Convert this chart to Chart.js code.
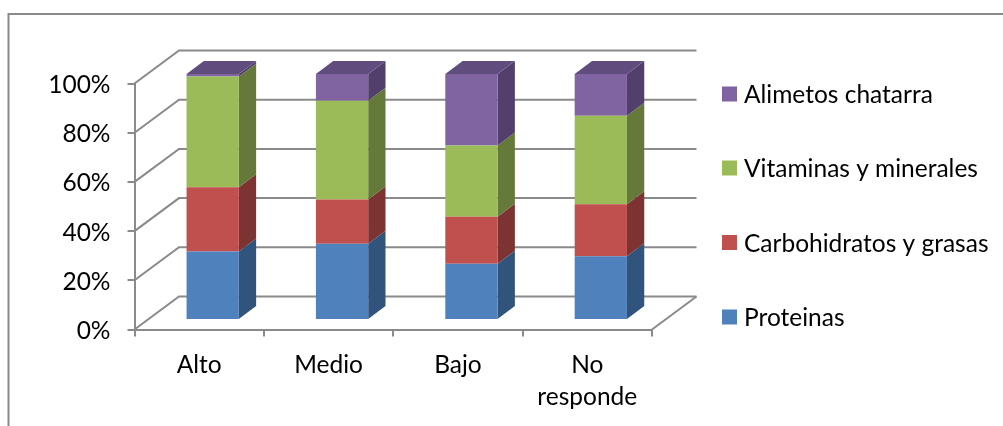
<!DOCTYPE html>
<html>
<head>
<meta charset="utf-8">
<style>html,body{margin:0;padding:0;background:#fff}canvas{display:block}</style>
<script src="https://cdn.jsdelivr.net/npm/chart.js@4/dist/chart.umd.js"></script>
</head>
<body>
<canvas id="c" width="1003" height="426"></canvas>
<script>
const categories = ['Alto', 'Medio', 'Bajo', ['No', 'responde']];
const proteinas = [27.8, 31.0, 22.8, 25.9];
const carbohidratos = [26.1, 17.9, 19.1, 21.1];
const vitaminas = [45.0, 40.2, 29.0, 36.0];
const chatarra = [1.1, 10.9, 29.1, 17.0];
const seriesNames = ['Proteinas', 'Carbohidratos y grasas', 'Vitaminas y minerales', 'Alimetos chatarra'];
const faceColors = ['#4F81BD', '#C0504D', '#9BBB59', '#8064A2'];
const sideColors = ['#31547D', '#7D3331', '#65793A', '#533F6C'];
const topColor = '#614C7E';
const percentTicks = [0, 20, 40, 60, 80, 100];

const LINE = '#8A8A8A';
const FONT = 'Lato, Carlito, sans-serif';
const TEXT_SIZE = 24.5;
const WALL = {dx: 44.5, dy: -33};   // depth of the floor and side wall
const SLOT = {dx: 13.5, dy: -9.6};  // where the columns sit inside that depth
const BAR = {dx: 17.3, dy: -13};    // depth of a column

function poly(ctx, pts, fill) {
  ctx.beginPath();
  pts.forEach((p, i) => i ? ctx.lineTo(p[0], p[1]) : ctx.moveTo(p[0], p[1]));
  ctx.closePath();
  ctx.fillStyle = fill;
  ctx.fill();
}

// Outer frame of the chart object
const framePlugin = {
  id: 'frame',
  beforeDraw(chart) {
    const ctx = chart.ctx;
    ctx.save();
    ctx.strokeStyle = LINE;
    ctx.lineWidth = 2;
    ctx.beginPath();
    ctx.moveTo(8.5, 426);
    ctx.lineTo(8.5, 14);
    ctx.lineTo(1003, 14);
    ctx.stroke();
    ctx.restore();
  }
};

// Back wall and floor lines, column sides and tops, shifted column fronts
const depthPlugin = {
  id: 'depth',
  beforeDatasetsDraw(chart) {
    const ctx = chart.ctx, y = chart.scales.y, a = chart.chartArea;
    ctx.save();
    ctx.strokeStyle = LINE;
    ctx.lineWidth = 2;
    percentTicks.forEach(t => {
      const py = y.getPixelForValue(t);
      ctx.beginPath();
      ctx.moveTo(a.left, py);
      ctx.lineTo(a.left + WALL.dx, py + WALL.dy);
      ctx.lineTo(a.right + WALL.dx, py + WALL.dy);
      ctx.stroke();
    });
    const by = y.getPixelForValue(0);
    ctx.beginPath();
    ctx.moveTo(a.right + WALL.dx, by + WALL.dy);
    ctx.lineTo(a.right, by);
    ctx.stroke();

    ctx.translate(SLOT.dx, SLOT.dy);
    const last = chart.data.datasets.length - 1;
    chart.data.datasets.forEach((ds, i) => {
      chart.getDatasetMeta(i).data.forEach(el => {
        const {x, y: top, base, width} = el.getProps(['x', 'y', 'base', 'width'], true);
        const r = x + width / 2, l = x - width / 2;
        poly(ctx, [[r, top], [r + BAR.dx, top + BAR.dy], [r + BAR.dx, base + BAR.dy], [r, base]], sideColors[i]);
        if (i === last) {
          poly(ctx, [[l, top], [l + BAR.dx, top + BAR.dy], [r + BAR.dx, top + BAR.dy], [r, top]], topColor);
        }
      });
    });
  },
  afterDatasetsDraw(chart) {
    chart.ctx.restore();
  }
};

// Legend column to the right of the plot, last series first
const legendPlugin = {
  id: 'sideLegend',
  afterDraw(chart) {
    const ctx = chart.ctx;
    const rows = [317, 242.5, 168, 94];
    ctx.save();
    ctx.font = TEXT_SIZE + 'px ' + FONT;
    ctx.textBaseline = 'middle';
    ctx.textAlign = 'left';
    chart.data.datasets.forEach((ds, i) => {
      ctx.fillStyle = ds.backgroundColor;
      ctx.fillRect(722, rows[i] - 7.5, 15, 15);
      ctx.fillStyle = '#000';
      ctx.fillText(ds.label, 744, rows[i] + 1.5);
    });
    ctx.restore();
  }
};

const seriesValues = [proteinas, carbohidratos, vitaminas, chatarra];

new Chart(document.getElementById('c'), {
  type: 'bar',
  data: {
    labels: categories,
    datasets: seriesValues.map((values, i) => ({
      label: seriesNames[i],
      data: values,
      backgroundColor: faceColors[i],
      borderWidth: 0,
      clip: false
    }))
  },
  plugins: [framePlugin, depthPlugin, legendPlugin],
  options: {
    responsive: false,
    animation: false,
    categoryPercentage: 1,
    barPercentage: 0.404,
    layout: {padding: {top: 83.5, right: 351, bottom: 0, left: 0}},
    plugins: {legend: {display: false}, tooltip: {enabled: false}},
    scales: {
      x: {
        stacked: true,
        afterFit(scale) { scale.height = 96.5; },
        grid: {drawOnChartArea: false, drawTicks: true, tickLength: 7, color: LINE, lineWidth: 2},
        border: {display: true, color: LINE, width: 2},
        ticks: {color: '#000', font: {family: FONT, size: TEXT_SIZE, lineHeight: 1.33}, padding: 12, maxRotation: 0, autoSkip: false}
      },
      y: {
        stacked: true,
        min: 0,
        max: 100,
        afterFit(scale) { scale.width = 134.5; },
        afterBuildTicks(scale) { scale.ticks = percentTicks.map(value => ({value})); },
        grid: {drawOnChartArea: false, drawTicks: true, tickLength: 7, color: LINE, lineWidth: 2},
        border: {display: true, color: LINE, width: 2},
        ticks: {color: '#000', font: {family: FONT, size: TEXT_SIZE}, padding: 17, labelOffset: 1.5, callback: v => v + '%'}
      }
    }
  }
});
</script>
</body>
</html>
